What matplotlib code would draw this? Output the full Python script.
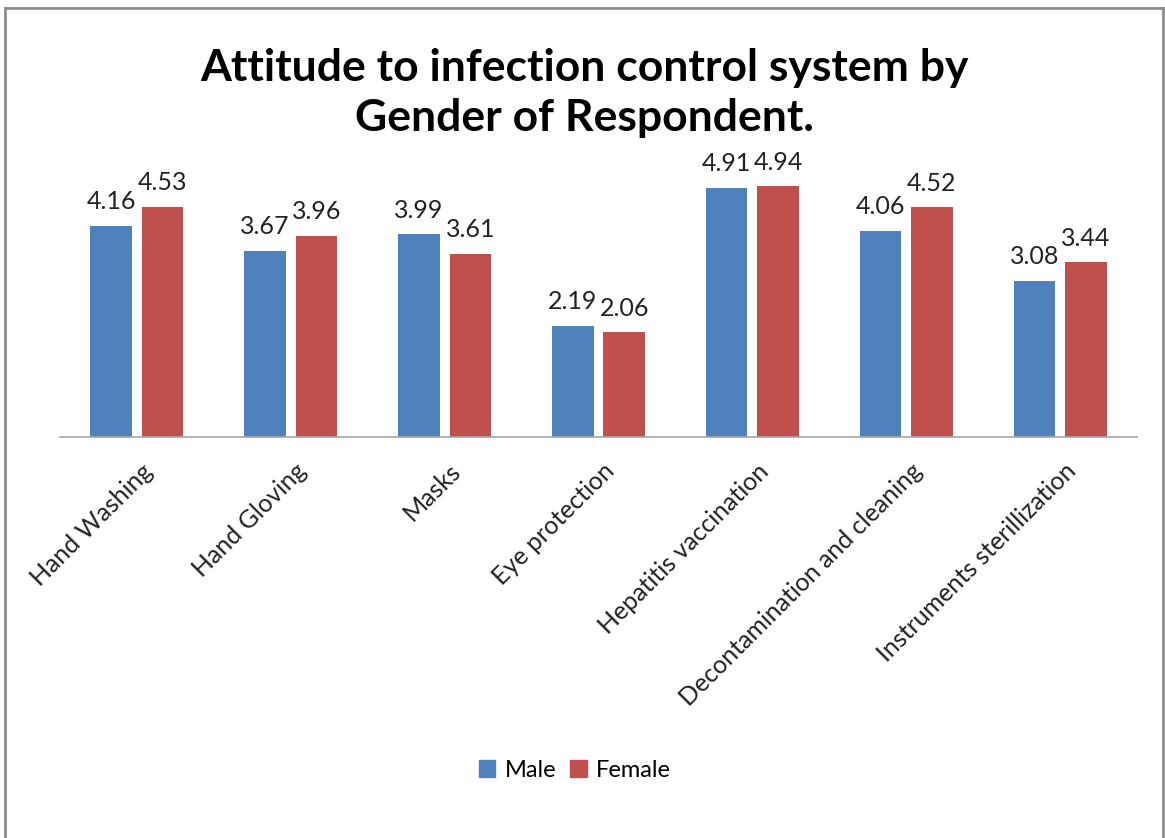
import matplotlib
matplotlib.use("Agg")
import matplotlib.pyplot as plt
from matplotlib.lines import Line2D
from matplotlib.transforms import ScaledTranslation
import numpy as np

categories = ["Hand Washing", "Hand Gloving", "Masks", "Eye protection",
              "Hepatitis vaccination", "Decontamination and cleaning",
              "Instruments sterillization"]
male = [4.16, 3.67, 3.99, 2.19, 4.91, 4.06, 3.08]
female = [4.53, 3.96, 3.61, 2.06, 4.94, 4.52, 3.44]
title = "Attitude to infection control system by\nGender of Respondent."

W, H = 1165, 838
fig = plt.figure(figsize=(W / 100, H / 100), dpi=100)
font = "Lato"

# axes position in pixels
left, right, base = 60, 1137, 437
ppu = 50.8
ymax = 6.0
top = base - ymax * ppu
ax = fig.add_axes([left / W, 1 - base / H, (right - left) / W, (base - top) / H])

x = np.arange(len(categories))
bw = 0.27
off = 0.167
c_m, c_f = "#4F81BD", "#C0504D"
b1 = ax.bar(x - off, male, bw, color=c_m, label="Male")
b2 = ax.bar(x + off, female, bw, color=c_f, label="Female")

for bars, vals in ((b1, male), (b2, female)):
    for r, v in zip(bars, vals):
        ax.annotate(f"{v:.2f}", (r.get_x() + r.get_width() / 2, v),
                    xytext=(0, 9), textcoords="offset points",
                    ha="center", va="bottom", fontsize=18, family=font,
                    color="#222222")

ax.set_xlim(-0.5, len(categories) - 0.5)
ax.set_ylim(0, ymax)
for s in ("top", "right", "left"):
    ax.spines[s].set_visible(False)
ax.spines["bottom"].set_color("#A6A6A6")
ax.spines["bottom"].set_linewidth(1.2)
ax.set_yticks([])
ax.set_xticks(x)
ax.set_xticklabels(categories, rotation=45, ha="right", rotation_mode="anchor",
                   fontsize=18, family=font, color="#222222")
ax.tick_params(axis="x", length=0, pad=16)
for lbl in ax.get_xticklabels():
    lbl.set_transform(lbl.get_transform() + ScaledTranslation(4 / 100, 0, fig.dpi_scale_trans))

fig.text(0.502, 1 - 93 / H, title, ha="center", va="center", fontsize=32,
         fontweight="bold", family=font, linespacing=1.3)

handles = [plt.Rectangle((0, 0), 1, 1, color=c_m), plt.Rectangle((0, 0), 1, 1, color=c_f)]
fig.legend(handles, ["Male", "Female"], loc="center", bbox_to_anchor=(575 / W, 1 - 770 / H),
           ncol=2, frameon=False, prop={"family": font, "size": 17},
           handlelength=0.7, handleheight=0.7, handletextpad=0.4, columnspacing=0.6)

# outer border
bc = "#8C8C8C"
fig.add_artist(Line2D([5 / W, 5 / W], [0, 1 - 8 / H], transform=fig.transFigure, color=bc, lw=2))
fig.add_artist(Line2D([5 / W, 1163 / W], [1 - 8 / H, 1 - 8 / H], transform=fig.transFigure, color=bc, lw=2))
fig.add_artist(Line2D([1163 / W, 1163 / W], [0, 1 - 8 / H], transform=fig.transFigure, color=bc, lw=2))

fig.savefig("out.png", dpi=100)
